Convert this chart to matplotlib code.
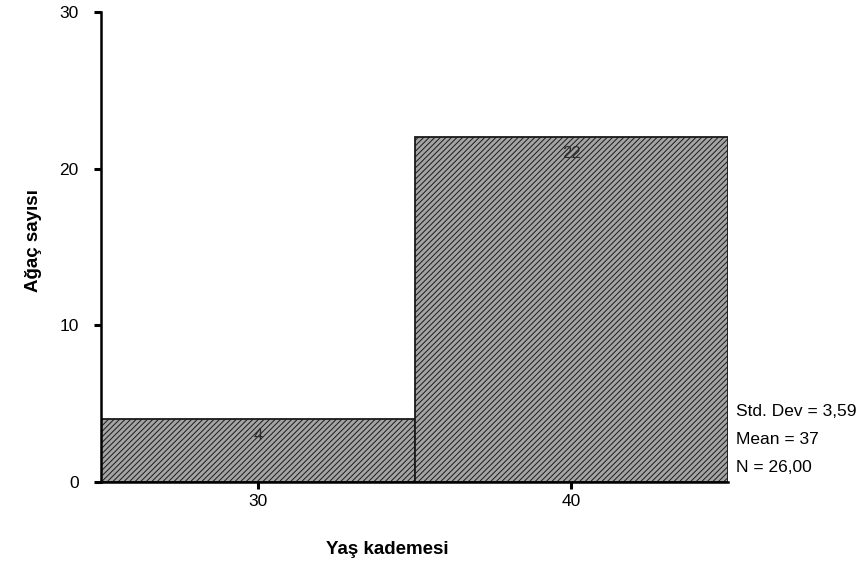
import matplotlib
matplotlib.use("Agg")
import matplotlib.pyplot as plt

plt.rcParams['font.family'] = ['Liberation Sans', 'DejaVu Sans']
plt.rcParams['hatch.color'] = '#4a4a4a'
plt.rcParams['hatch.linewidth'] = 0.7

bin_centers = [30, 40]
counts = [4, 22]
bin_width = 10
y_ticks = [0, 10, 20, 30]
x_ticks = [30, 40]
stats_lines = ["Std. Dev = 3,59", "Mean = 37", "N = 26,00"]

W, H = 859, 569
fig = plt.figure(figsize=(W/100, H/100), dpi=100)
ax = fig.add_axes([101/W, 1 - 482/H, (728 - 101)/W, (482 - 12)/H])

ax.bar(bin_centers, counts, width=bin_width, facecolor='#a4a4a4',
       edgecolor='#1a1a1a', linewidth=1.3, hatch='//////')
for c, v in zip(bin_centers, counts):
    ax.text(c, v - 1.0, str(v), ha='center', va='center', fontsize=12, color='#2a2a2a')

ax.set_xlim(25, 45)
ax.set_ylim(0, 30)
ax.set_yticks(y_ticks)
ax.set_xticks(x_ticks)
ax.tick_params(axis='both', direction='out', length=5, width=2.2, labelsize=12.5)
ax.tick_params(axis='y', pad=11)
ax.tick_params(axis='x', pad=3.5)
ax.spines['top'].set_visible(False)
ax.spines['right'].set_visible(False)
ax.spines['left'].set_linewidth(1.8)
ax.spines['bottom'].set_linewidth(1.8)

fig.text(33/W, 1 - 241/H, "Ağaç sayısı", rotation=90, ha='center', va='center',
         fontsize=13.5, fontweight='bold')
fig.text(387/W, 1 - 549/H, "Yaş kademesi", ha='center', va='center',
         fontsize=13.5, fontweight='bold')

for y, line in zip([411, 439, 468], stats_lines):
    fig.text(736/W, 1 - y/H, line, ha='left', va='center', fontsize=12.5)

fig.savefig("out.png", dpi=100)
